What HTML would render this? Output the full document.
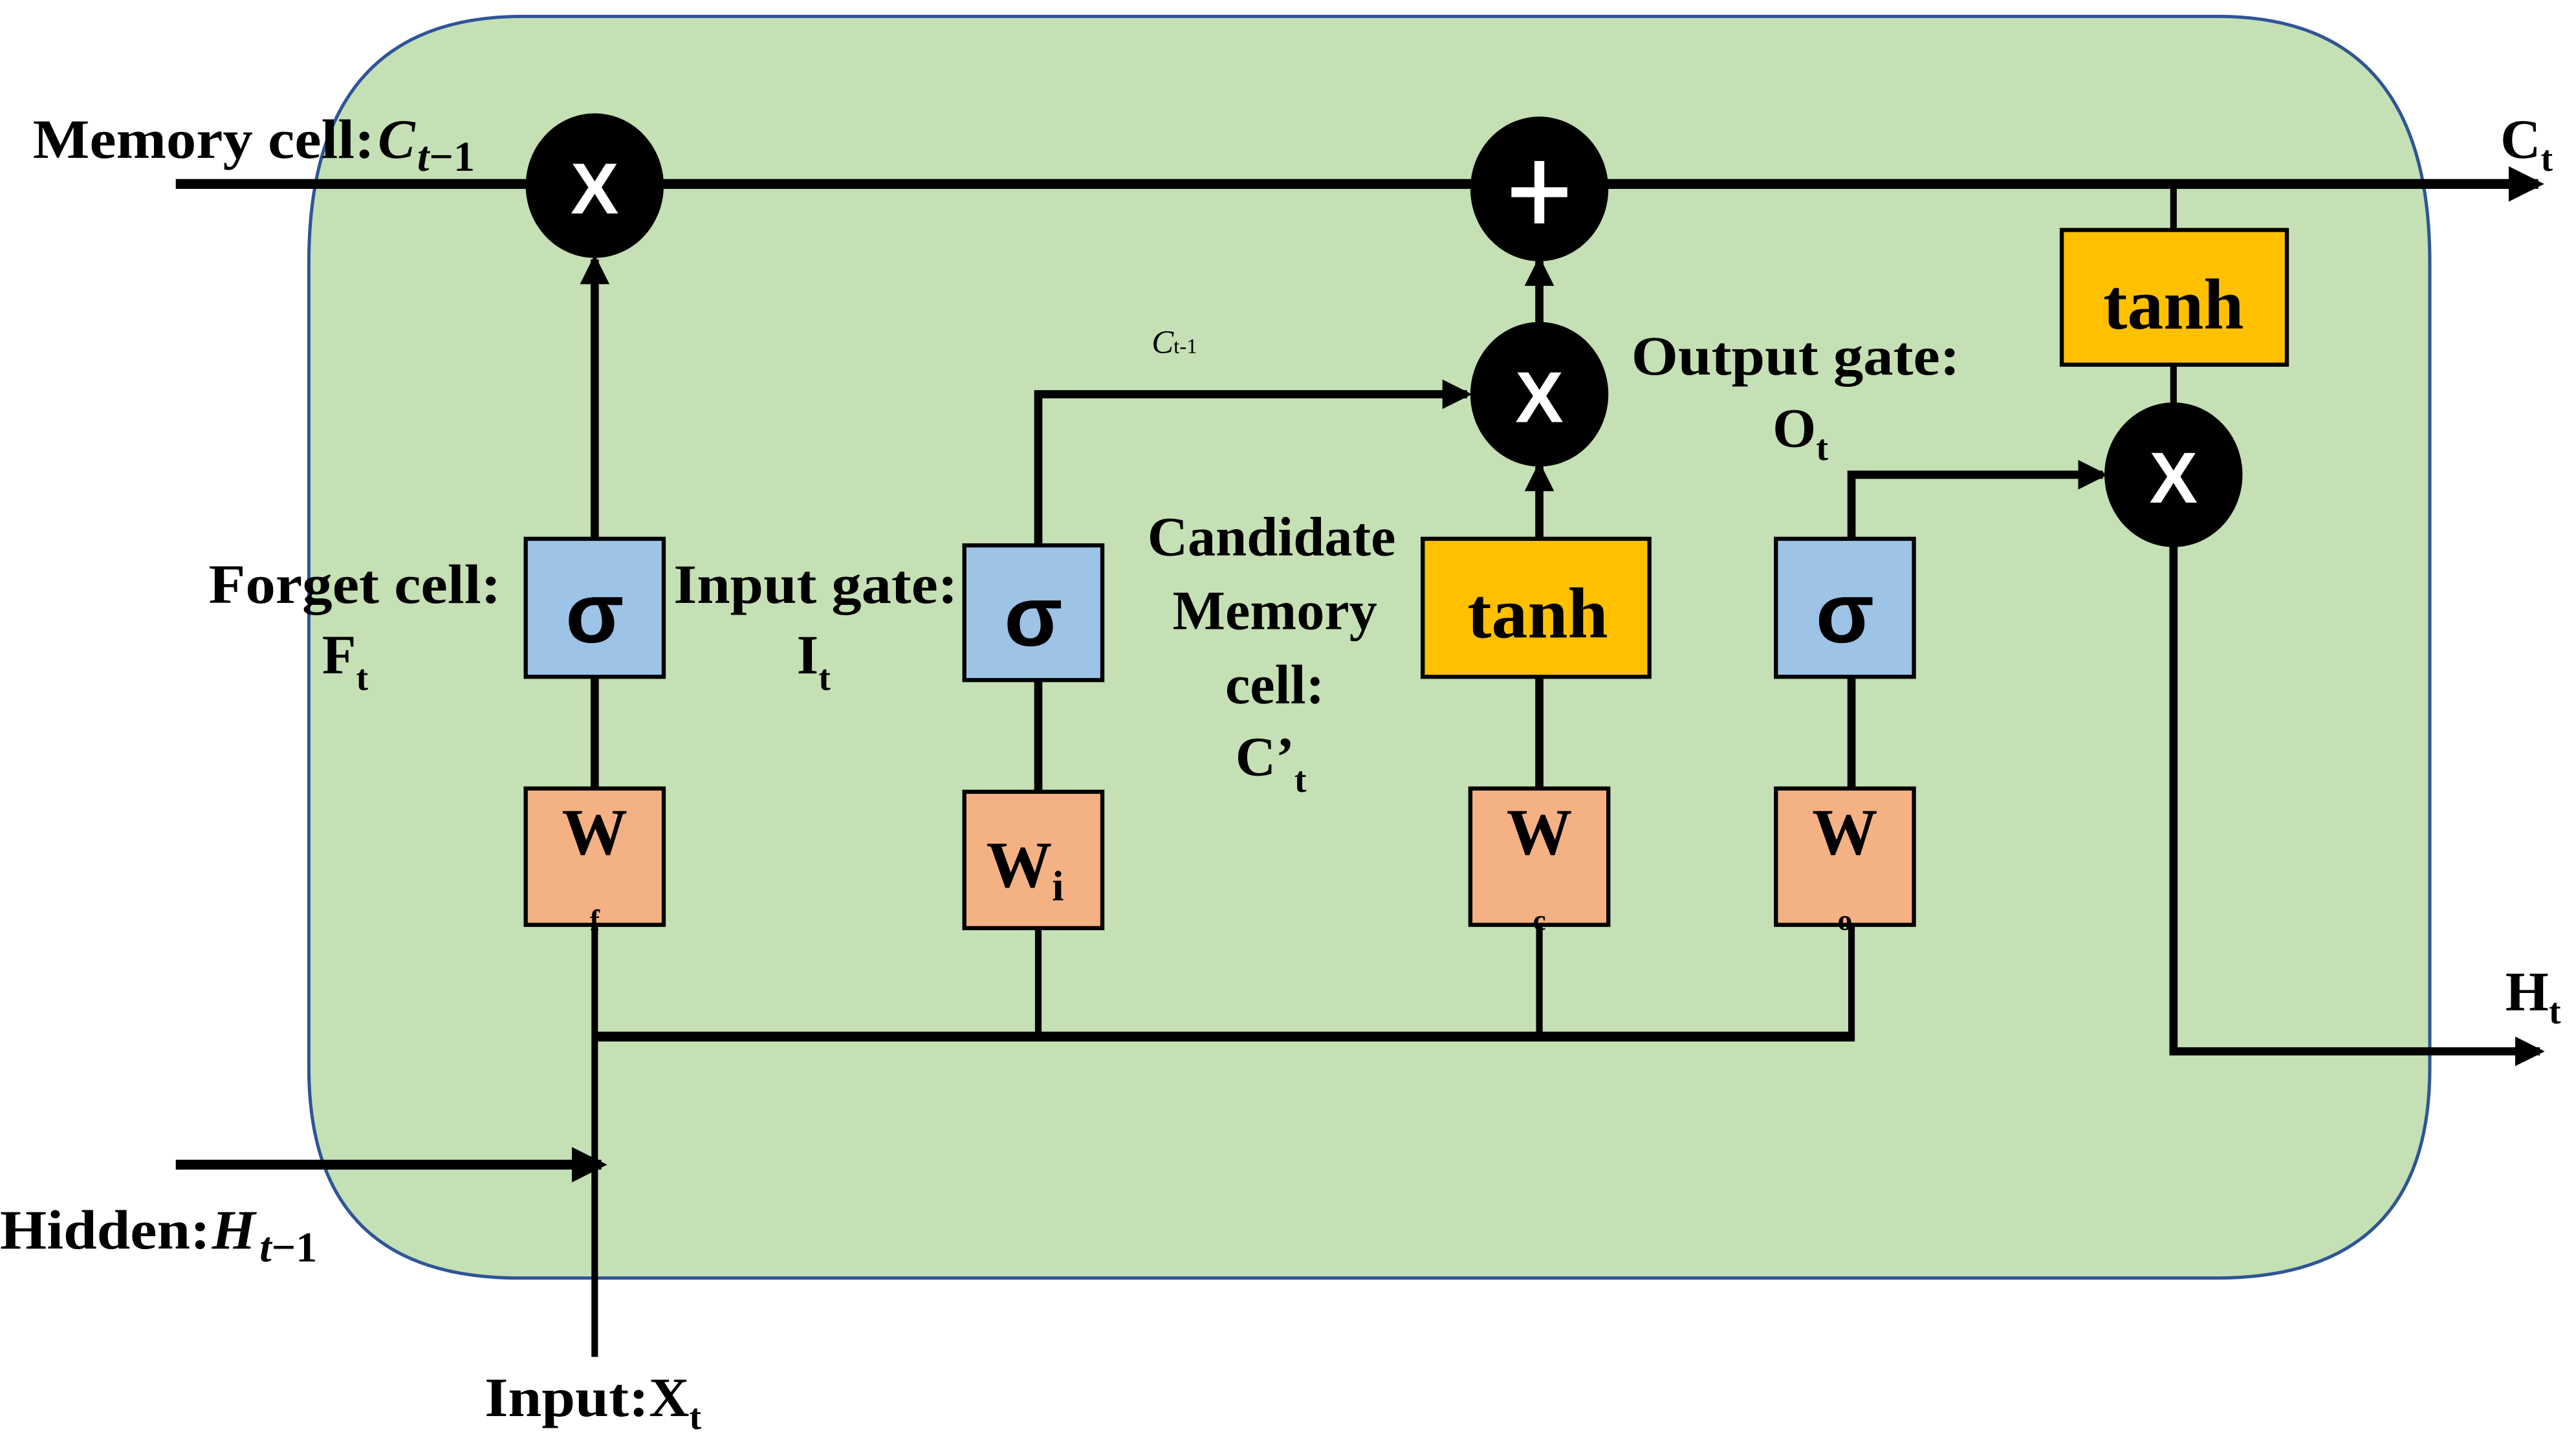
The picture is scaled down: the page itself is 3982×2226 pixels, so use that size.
<!DOCTYPE html>
<html><head><meta charset="utf-8"><style>
html,body{margin:0;padding:0;background:#fff;}
svg{display:block;}
text{font-family:"Liberation Serif",serif;font-weight:bold;fill:#000;}
.s{font-family:"Liberation Sans",sans-serif;}
</style></head><body>
<svg width="3982" height="2226" viewBox="0 0 1568 876.6" preserveAspectRatio="none" xmlns="http://www.w3.org/2000/svg">
<defs>
<marker id="a" viewBox="0 0 6 6" markerWidth="3.6" markerHeight="3.6" refX="5" refY="3" orient="auto" markerUnits="strokeWidth">
<path d="M0,0 L6,3 L0,6 z" fill="#000"/></marker>
</defs>
<path d="M318,10 H1350 Q1479,10 1479,160 V650 Q1479,778 1349,778 H316 Q188,778 188,650 V160 Q188,10 318,10 Z" fill="#c5e0b4" stroke="#2f5597" stroke-width="2"/>

<g stroke="#000" fill="none">
<line x1="107" y1="112" x2="1545" y2="112" stroke-width="6" marker-end="url(#a)"/>
<line x1="362" y1="328" x2="362" y2="158" stroke-width="5" marker-end="url(#a)"/>
<line x1="362" y1="412" x2="362" y2="480" stroke-width="5"/>
<line x1="362" y1="563" x2="362" y2="826" stroke-width="4"/>
<polyline points="632,332 632,240 893,240" stroke-width="5" marker-end="url(#a)"/>
<line x1="632" y1="414" x2="632" y2="482" stroke-width="5"/>
<line x1="632" y1="565" x2="632" y2="631" stroke-width="4"/>
<line x1="937" y1="328" x2="937" y2="284" stroke-width="5" marker-end="url(#a)"/>
<line x1="937" y1="198" x2="937" y2="159" stroke-width="5" marker-end="url(#a)"/>
<line x1="937" y1="412" x2="937" y2="480" stroke-width="5"/>
<line x1="937" y1="563" x2="937" y2="631" stroke-width="4"/>
<polyline points="1127,328 1127,289 1280,289" stroke-width="5" marker-end="url(#a)"/>
<line x1="1127" y1="412" x2="1127" y2="480" stroke-width="5"/>
<line x1="1127" y1="563" x2="1127" y2="634" stroke-width="4"/>
<line x1="1323" y1="112" x2="1323" y2="140" stroke-width="4"/>
<line x1="1323" y1="222" x2="1323" y2="250" stroke-width="4"/>
<polyline points="1323,330 1323,640 1546,640" stroke-width="5" marker-end="url(#a)"/>
<line x1="362" y1="631" x2="1127" y2="631" stroke-width="6"/>
<line x1="107" y1="709" x2="366" y2="709" stroke-width="6" marker-end="url(#a)"/>
</g>

<g fill="#000">
<ellipse cx="362" cy="113" rx="42" ry="44"/>
<ellipse cx="937" cy="115" rx="42" ry="44"/>
<ellipse cx="937" cy="240" rx="42" ry="44"/>
<ellipse cx="1323" cy="289" rx="42" ry="44"/>
</g>
<g class="s" font-size="44" text-anchor="middle">
<text x="362" y="130" class="s" style="fill:#fff">X</text>
<text x="937" y="257" class="s" style="fill:#fff">X</text>
<text x="1323" y="306" class="s" style="fill:#fff">X</text>
</g>
<g stroke="#fff" stroke-width="6"><line x1="920" y1="117" x2="954" y2="117"/><line x1="937" y1="98" x2="937" y2="136"/></g>

<g stroke="#000" stroke-width="2.5">
<rect x="320" y="328" width="84" height="84" fill="#9dc3e6"/>
<rect x="587" y="332" width="84" height="82" fill="#9dc3e6"/>
<rect x="1081" y="328" width="84" height="84" fill="#9dc3e6"/>
<rect x="866" y="328" width="138" height="84" fill="#ffc000"/>
<rect x="1255" y="140" width="137" height="82" fill="#ffc000"/>
<rect x="320" y="480" width="84" height="83" fill="#f4b183"/>
<rect x="587" y="482" width="84" height="83" fill="#f4b183"/>
<rect x="895" y="480" width="84" height="83" fill="#f4b183"/>
<rect x="1081" y="480" width="84" height="83" fill="#f4b183"/>
</g>
<g font-size="52" text-anchor="middle">
<text class="s" x="362" y="391">σ</text>
<text class="s" x="629" y="393">σ</text>
<text class="s" x="1123" y="391">σ</text>
</g>
<g font-size="44" text-anchor="middle">
<text x="936" y="388">tanh</text>
<text x="1323" y="200">tanh</text>
</g>
<g font-size="40" text-anchor="middle">
<text x="362" y="520">W</text>
<text x="937" y="520">W</text>
<text x="1123" y="520">W</text>
<text x="624" y="540">W<tspan font-size="26" dy="8">i</tspan></text>
</g>
<g font-size="18" text-anchor="middle">
<text x="362" y="566">f</text>
<text x="937" y="566">c</text>
<text x="1123" y="566">o</text>
</g>

<g font-size="34">
<text x="20" y="96" textLength="208" lengthAdjust="spacingAndGlyphs">Memory cell:</text>
<text x="230" y="96" font-style="italic">C</text>
<text x="254" y="104" font-size="26" font-style="italic">t<tspan font-style="normal">−1</tspan></text>
<text x="1522" y="96">C<tspan font-size="22" dy="8">t</tspan></text>
<text x="127" y="367" textLength="178" lengthAdjust="spacingAndGlyphs">Forget cell:</text>
<text x="196" y="410">F<tspan font-size="22" dy="10">t</tspan></text>
<text x="410" y="367" textLength="173" lengthAdjust="spacingAndGlyphs">Input gate:</text>
<text x="485" y="410">I<tspan font-size="22" dy="10">t</tspan></text>
<text x="993" y="228" textLength="200" lengthAdjust="spacingAndGlyphs">Output gate:</text>
<text x="1079" y="272">O<tspan font-size="22" dy="8">t</tspan></text>
<g text-anchor="middle">
<text x="774" y="338">Candidate</text>
<text x="776" y="383">Memory</text>
<text x="776" y="428">cell:</text>
</g>
<text x="752" y="472">C’<tspan font-size="22" dy="10">t</tspan></text>
<text x="1525" y="615">H<tspan font-size="22" dy="8">t</tspan></text>
<text x="0" y="760" textLength="128" lengthAdjust="spacingAndGlyphs">Hidden:</text>
<text x="129" y="760" font-style="italic">H</text>
<text x="158" y="768" font-size="26" font-style="italic">t<tspan font-style="normal">−1</tspan></text>
<text x="295" y="862" textLength="100" lengthAdjust="spacingAndGlyphs">Input:</text>
<text x="395" y="862">X<tspan font-size="22" dy="8">t</tspan></text>
</g>
<text x="701" y="215" font-size="20" style="font-weight:normal" font-style="italic">C<tspan font-size="13" font-style="normal">t-1</tspan></text>
</svg>
</body></html>
